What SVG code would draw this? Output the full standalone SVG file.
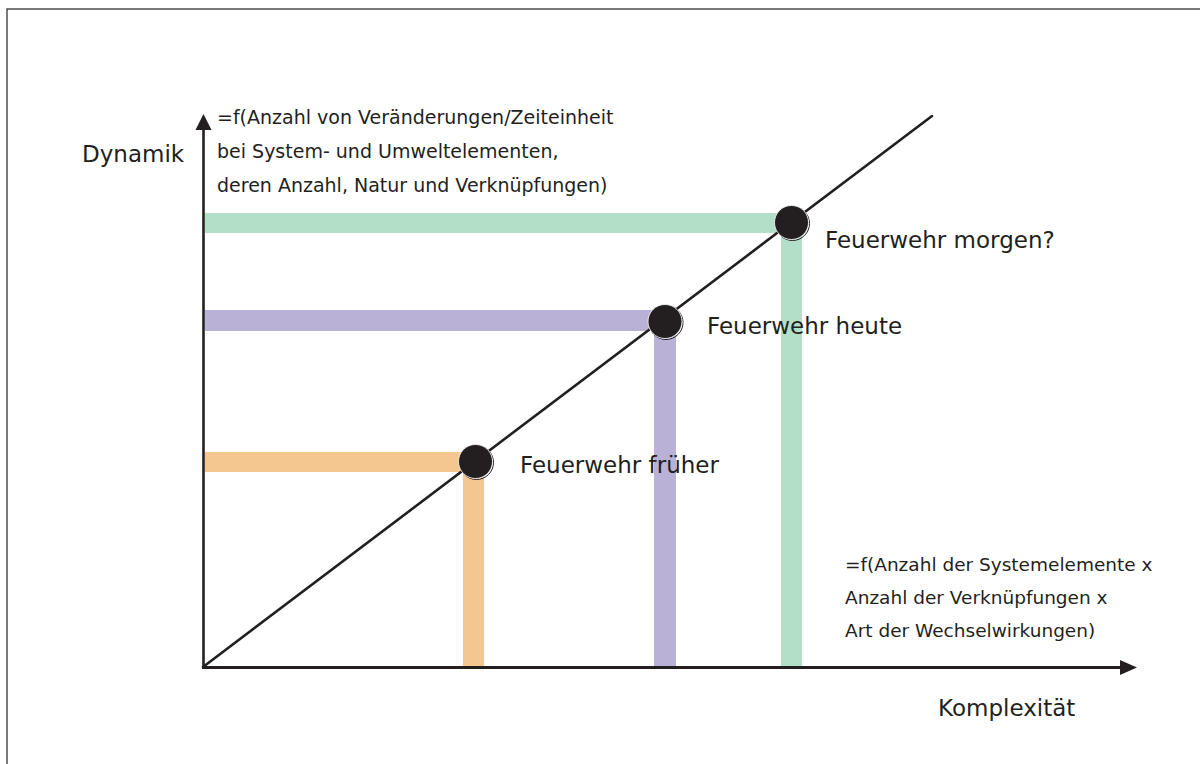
<svg xmlns="http://www.w3.org/2000/svg" width="1200" height="764" viewBox="0 0 1200 764">
  <style>
    text { font-family: "DejaVu Sans", "Liberation Sans", sans-serif; fill: #231f20; }
    .big { font-size: 23px; }
    .lbl { font-size: 23px; }
    .ann { font-size: 19px; }
    .ann2 { font-size: 18.5px; }
    .axis { stroke: #231f20; fill: none; }
    .dot { fill: #231f20; stroke: #ffffff; stroke-width: 0.8; }
    .ring { fill: none; stroke: #231f20; stroke-width: 1; }
    .green { fill: #b3dfc9; }
    .purple { fill: #bab1d6; }
    .orange { fill: #f4c690; }
  </style>
  <rect x="0" y="0" width="1200" height="764" fill="#ffffff"/>
  <rect x="7" y="9" width="1250" height="800" fill="none" stroke="#333333" stroke-width="1.3"/>

  <g id="bars">
    <rect class="green" x="205" y="213" width="582" height="20"/>
    <rect class="green" x="781" y="225" width="21" height="441"/>
    <rect class="purple" x="205" y="310" width="456" height="21"/>
    <rect class="purple" x="654" y="322" width="22" height="344"/>
    <rect class="orange" x="205" y="452" width="266" height="20"/>
    <rect class="orange" x="463" y="462" width="21" height="204"/>
  </g>

  <g id="connectors">
    <line class="axis" x1="203.5" y1="668" x2="203.5" y2="128" stroke-width="2.6"/>
    <polygon points="203.5,114 195.5,130 211.5,130" fill="#231f20"/>
    <line class="axis" x1="202" y1="667.5" x2="1122" y2="667.5" stroke-width="3.2"/>
    <polygon points="1137,667.5 1120,660 1120,675" fill="#231f20"/>
    <line class="axis" x1="203" y1="667" x2="932" y2="116" stroke-width="2.6" stroke-linecap="round"/>
  </g>

  <g id="node-frueher">
    <circle class="ring" cx="476.5" cy="462.5" r="17"/>
    <circle class="dot" cx="475.5" cy="461.5" r="17"/>
    <text class="lbl" x="520" y="473">Feuerwehr früher</text>
  </g>
  <g id="node-heute">
    <circle class="ring" cx="666" cy="322.5" r="17"/>
    <circle class="dot" cx="665" cy="321.5" r="17"/>
    <text class="lbl" x="707" y="334">Feuerwehr heute</text>
  </g>
  <g id="node-morgen">
    <circle class="ring" cx="792.5" cy="223.5" r="17"/>
    <circle class="dot" cx="791.5" cy="222.5" r="17"/>
    <text class="lbl" x="825" y="248">Feuerwehr morgen?</text>
  </g>

  <g id="axis-labels">
    <text class="big" x="82" y="162">Dynamik</text>
    <text class="big" x="938" y="716">Komplexität</text>
  </g>

  <g id="annotation-dynamik">
    <text class="ann" x="217" y="124">=f(Anzahl von Veränderungen/Zeiteinheit</text>
    <text class="ann" x="217" y="158">bei System- und Umweltelementen,</text>
    <text class="ann" x="217" y="192">deren Anzahl, Natur und Verknüpfungen)</text>
  </g>
  <g id="annotation-komplexitaet">
    <text class="ann2" x="845" y="571">=f(Anzahl der Systemelemente x</text>
    <text class="ann2" x="845" y="604">Anzahl der Verknüpfungen x</text>
    <text class="ann2" x="845" y="637">Art der Wechselwirkungen)</text>
  </g>
</svg>
